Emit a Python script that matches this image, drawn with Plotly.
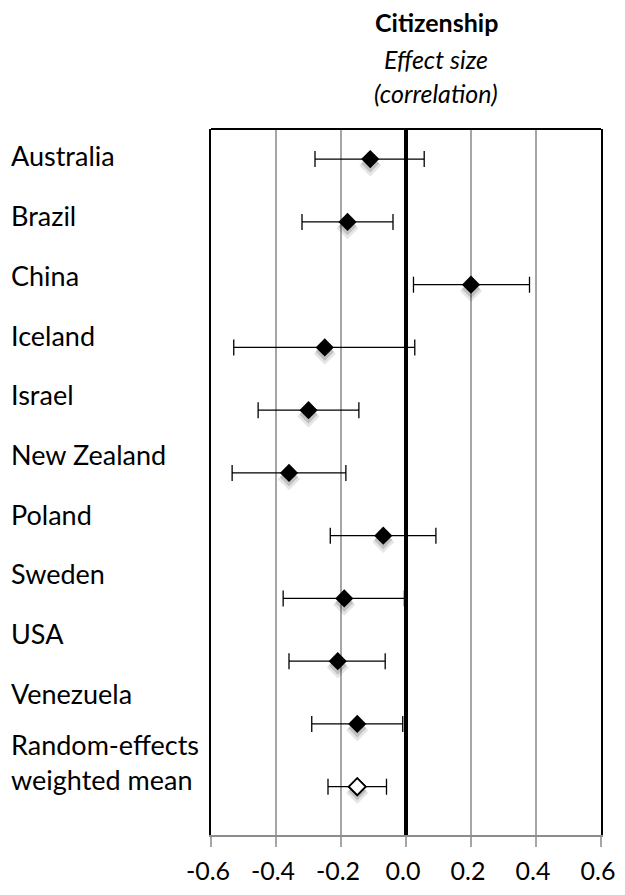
import plotly.graph_objects as go

countries = ["Australia", "Brazil", "China", "Iceland", "Israel", "New Zealand",
             "Poland", "Sweden", "USA", "Venezuela"]
effect = [-0.11, -0.18, 0.20, -0.25, -0.30, -0.36, -0.07, -0.19, -0.21, -0.15]
ci_low = [-0.28, -0.32, 0.023, -0.53, -0.455, -0.535, -0.233, -0.378, -0.36, -0.29]
ci_high = [0.056, -0.04, 0.38, 0.027, -0.145, -0.185, 0.092, -0.005, -0.064, -0.01]

mean_label = "Random-effects<br>weighted mean"
mean_effect = -0.15
mean_low = -0.24
mean_high = -0.06

x_ticks = [-0.6, -0.4, -0.2, 0.0, 0.2, 0.4, 0.6]
title_lines = ["<b>Citizenship</b>", "<i>Effect size</i>", "<i>(correlation)</i>"]

FONT = "Lato"
rows = list(range(len(countries)))
mean_row = len(countries)

# page offset compensation (8px body margin of the html page)
OFF = 8
W, H = 625 - OFF, 895 - OFF
top_px, bottom_px, left_px, right_px = 129 - OFF, 835 - OFF, 211 - OFF, 601 - OFF
plot_h = bottom_px - top_px
plot_w = right_px - left_px

def py(p):
    return (bottom_px - (p - OFF)) / plot_h

def px(p):
    return ((p - OFF) - left_px) / plot_w

fig = go.Figure()

all_x = effect + [mean_effect]
all_rows = rows + [mean_row]
fig.add_trace(go.Scatter(
    x=all_x, y=[r + 0.10 for r in all_rows], mode="markers",
    marker=dict(symbol="diamond", size=17, color="rgba(0,0,0,0.10)", line=dict(width=0)),
    hoverinfo="skip", showlegend=False))
fig.add_trace(go.Scatter(
    x=all_x, y=[r + 0.07 for r in all_rows], mode="markers",
    marker=dict(symbol="diamond", size=14, color="rgba(0,0,0,0.16)", line=dict(width=0)),
    hoverinfo="skip", showlegend=False))

fig.add_trace(go.Scatter(
    x=effect, y=rows, mode="markers",
    marker=dict(symbol="diamond", size=14, color="black", line=dict(width=0)),
    error_x=dict(type="data", symmetric=False,
                 array=[h - e for h, e in zip(ci_high, effect)],
                 arrayminus=[e - l for e, l in zip(effect, ci_low)],
                 color="black", thickness=1.3, width=8),
    showlegend=False))

fig.add_trace(go.Scatter(
    x=[mean_effect], y=[mean_row], mode="markers",
    marker=dict(symbol="diamond", size=13, color="white", line=dict(width=1.8, color="black")),
    error_x=dict(type="data", symmetric=False,
                 array=[mean_high - mean_effect],
                 arrayminus=[mean_effect - mean_low],
                 color="black", thickness=1.3, width=8),
    showlegend=False))
fig.add_trace(go.Scatter(
    x=[mean_effect], y=[mean_row], mode="markers",
    marker=dict(symbol="diamond", size=13, color="white", line=dict(width=1.8, color="black")),
    hoverinfo="skip", showlegend=False))

annotations = []
for i, name in enumerate(countries):
    annotations.append(dict(text=name, xref="paper", yref="paper", x=px(9),
                            y=py(156 + 59.7 * i), xanchor="left", yanchor="middle",
                            showarrow=False, font=dict(family=FONT, size=27, color="black")))
annotations.append(dict(text=mean_label, xref="paper", yref="paper", x=px(9),
                        y=py(762), xanchor="left", yanchor="middle", align="left",
                        showarrow=False, font=dict(family=FONT, size=27, color="black")))
title_y = [22, 59, 93]
for t, ty in zip(title_lines, title_y):
    annotations.append(dict(text=t, xref="paper", yref="paper", x=px(436),
                            y=py(ty), xanchor="center", yanchor="middle",
                            showarrow=False, font=dict(family=FONT, size=25, color="black")))

fig.update_layout(
    width=W, height=H,
    margin=dict(l=left_px, r=W - right_px, t=top_px, b=H - bottom_px),
    plot_bgcolor="white", paper_bgcolor="white",
    annotations=annotations,
    shapes=[dict(type="line", xref="paper", yref="paper", x0=0, x1=1, y0=1, y1=1,
                 line=dict(color="black", width=2))],
    xaxis=dict(range=[-0.6, 0.6], tickvals=x_ticks,
               ticktext=[f"{v:.1f}" for v in x_ticks], automargin=False,
               showgrid=True, gridcolor="#a6a6a6", gridwidth=1.5,
               zeroline=True, zerolinecolor="black", zerolinewidth=3.5,
               showline=True, linecolor="#8c8c8c", linewidth=2, mirror=False,
               ticks="outside", ticklen=10, tickwidth=1.5, tickcolor="#a6a6a6",
               ticklabelstandoff=3, ticklabelshift=-3,
               tickfont=dict(family=FONT, size=25, color="black"), fixedrange=True),
    yaxis=dict(range=[10.77, -0.48], showticklabels=False, showgrid=False,
               automargin=False,
               zeroline=False, showline=True, linecolor="black", linewidth=2,
               mirror=True, ticks="", fixedrange=True),
)

fig.write_html("out.html")
